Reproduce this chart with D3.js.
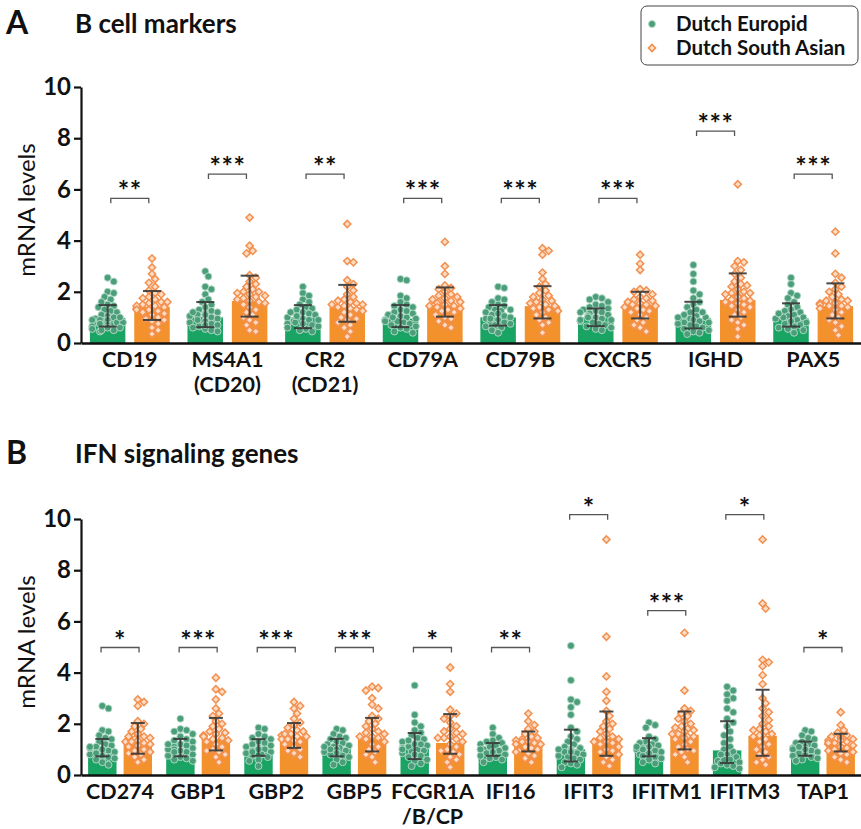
<!DOCTYPE html>
<html>
<head>
<meta charset="utf-8">
<script src="https://cdn.jsdelivr.net/npm/d3@7/dist/d3.min.js"></script>
<style>
  body { margin: 0; background: #fff; }
  svg { display: block; font-family: Lato, "Open Sans", sans-serif; }
</style>
</head>
<body>
<svg id="chart" width="861" height="829"></svg>
<script>
// ---- data ----
const SERIES = ['Dutch Europid', 'Dutch South Asian'];

const genesA = ['CD19', 'MS4A1\n(CD20)', 'CR2\n(CD21)', 'CD79A', 'CD79B', 'CXCR5', 'IGHD', 'PAX5'];
const meanA_EU = [0.97, 1.0, 1.0, 0.95, 1.0, 1.0, 0.96, 0.96];
const lowA_EU  = [0.64, 0.62, 0.58, 0.62, 0.68, 0.66, 0.57, 0.64];
const highA_EU = [1.48, 1.6, 1.48, 1.48, 1.48, 1.35, 1.61, 1.55];
const meanA_SA = [1.42, 1.64, 1.39, 1.48, 1.44, 1.48, 1.68, 1.44];
const lowA_SA  = [0.9, 1.03, 0.83, 1.03, 0.96, 0.96, 1.03, 0.96];
const highA_SA = [2.03, 2.63, 2.27, 2.17, 2.22, 2.0, 2.72, 2.33];
const bracketA = [5.65, 6.6, 6.6, 5.65, 5.65, 5.65, 8.28, 6.6];
const starsA   = ['**', '***', '**', '***', '***', '***', '***', '***'];

const pointsA_EU = [
  [2.55, 2.4, 2.0, 1.95, 1.8, 1.7, 1.6, 1.5, 1.45, 1.4, 1.3, 1.25, 1.2, 1.1, 1.05, 1.0, 0.95, 0.9, 0.9, 0.85, 0.8, 0.8, 0.75, 0.7, 0.65, 0.6, 0.55, 0.5, 0.45, 0.5, 0.7, 0.9, 1.0, 0.6, 0.75],
  [2.8, 2.6, 2.2, 2.1, 1.9, 1.7, 1.6, 1.5, 1.4, 1.3, 1.25, 1.2, 1.15, 1.1, 1.05, 1.0, 0.95, 0.9, 0.85, 0.8, 0.75, 0.7, 0.65, 0.6, 0.55, 0.5, 0.45, 1.1, 0.9, 1.2, 0.7],
  [2.2, 1.95, 1.85, 1.7, 1.6, 1.5, 1.4, 1.35, 1.3, 1.2, 1.15, 1.1, 1.0, 0.95, 0.9, 0.85, 0.8, 0.75, 0.7, 0.65, 0.6, 0.55, 0.5, 0.45, 1.05, 0.9, 1.2, 0.75],
  [2.5, 2.45, 1.85, 1.75, 1.6, 1.5, 1.45, 1.4, 1.3, 1.2, 1.15, 1.1, 1.05, 1.0, 0.95, 0.9, 0.85, 0.8, 0.75, 0.7, 0.65, 0.6, 0.55, 0.45, 0.4, 1.0, 0.85, 1.25],
  [2.2, 2.15, 1.75, 1.7, 1.6, 1.5, 1.45, 1.4, 1.3, 1.25, 1.2, 1.1, 1.05, 1.0, 0.95, 0.9, 0.85, 0.8, 0.75, 0.7, 0.65, 0.6, 0.5, 0.4, 1.15, 0.95, 1.3],
  [1.8, 1.75, 1.7, 1.6, 1.5, 1.45, 1.4, 1.35, 1.3, 1.25, 1.2, 1.15, 1.1, 1.05, 1.0, 0.95, 0.9, 0.85, 0.8, 0.75, 0.7, 0.65, 0.6, 0.55, 0.5, 1.0, 1.2, 0.9],
  [3.05, 2.7, 2.4, 2.05, 1.9, 1.75, 1.6, 1.5, 1.4, 1.3, 1.2, 1.1, 1.05, 1.0, 0.95, 0.9, 0.85, 0.8, 0.75, 0.7, 0.65, 0.6, 0.55, 0.5, 0.45, 0.4, 0.35, 1.0, 0.8, 1.2],
  [2.55, 2.3, 1.95, 1.85, 1.75, 1.6, 1.5, 1.4, 1.3, 1.25, 1.2, 1.1, 1.05, 1.0, 0.95, 0.9, 0.85, 0.8, 0.75, 0.7, 0.65, 0.6, 0.55, 0.5, 0.4, 1.0, 1.15, 0.85]
];
const pointsA_SA = [
  [3.3, 2.95, 2.7, 2.5, 2.35, 2.2, 2.05, 1.95, 1.9, 1.8, 1.75, 1.7, 1.6, 1.55, 1.5, 1.45, 1.4, 1.35, 1.3, 1.25, 1.2, 1.1, 1.0, 0.95, 0.9, 0.85, 0.75, 0.6, 0.5, 0.35, 1.45, 1.6, 1.3, 1.15],
  [4.9, 3.8, 3.6, 3.5, 2.65, 2.55, 2.4, 2.3, 2.2, 2.1, 2.0, 1.95, 1.9, 1.85, 1.8, 1.7, 1.65, 1.6, 1.5, 1.4, 1.3, 1.2, 1.1, 1.0, 0.9, 0.8, 0.7, 0.5, 0.45, 1.75, 1.55, 2.0],
  [4.65, 3.2, 3.15, 2.45, 2.3, 2.2, 2.05, 1.9, 1.8, 1.7, 1.6, 1.55, 1.5, 1.45, 1.4, 1.35, 1.3, 1.2, 1.1, 1.0, 0.95, 0.9, 0.8, 0.7, 0.6, 0.45, 0.25, 1.5, 1.65, 1.25],
  [3.95, 3.0, 2.7, 2.25, 2.15, 2.1, 2.0, 1.9, 1.85, 1.8, 1.7, 1.65, 1.6, 1.55, 1.5, 1.45, 1.4, 1.35, 1.3, 1.25, 1.2, 1.1, 1.0, 0.95, 0.85, 0.7, 0.6, 1.6, 1.75, 1.45],
  [3.7, 3.6, 3.45, 2.75, 2.5, 2.3, 2.2, 2.05, 1.95, 1.85, 1.8, 1.7, 1.6, 1.5, 1.45, 1.4, 1.3, 1.25, 1.2, 1.1, 1.0, 0.9, 0.8, 0.7, 0.4, 1.55, 1.65, 1.35],
  [3.45, 3.1, 2.85, 2.1, 2.05, 2.0, 1.9, 1.8, 1.7, 1.65, 1.6, 1.55, 1.5, 1.45, 1.4, 1.35, 1.3, 1.2, 1.1, 1.0, 0.9, 0.8, 0.7, 0.6, 0.45, 1.5, 1.75, 1.25],
  [6.2, 3.2, 3.15, 3.0, 2.85, 2.7, 2.55, 2.4, 2.3, 2.2, 2.1, 2.0, 1.95, 1.9, 1.85, 1.8, 1.7, 1.65, 1.6, 1.5, 1.45, 1.4, 1.3, 1.2, 1.1, 1.0, 0.9, 0.8, 0.7, 0.55, 0.25, 1.75, 1.55, 2.25, 1.95],
  [4.35, 3.5, 2.7, 2.55, 2.35, 2.2, 2.1, 2.0, 1.9, 1.8, 1.7, 1.65, 1.6, 1.55, 1.5, 1.45, 1.4, 1.35, 1.3, 1.2, 1.1, 1.0, 0.9, 0.8, 0.65, 0.5, 0.3, 1.55, 1.65, 1.45]
];

const genesB = ['CD274', 'GBP1', 'GBP2', 'GBP5', 'FCGR1A\n/B/CP', 'IFI16', 'IFIT3', 'IFITM1', 'IFITM3', 'TAP1'];
const meanB_EU = [0.92, 0.96, 0.96, 1.01, 1.1, 0.99, 1.0, 1.0, 0.96, 0.99];
const lowB_EU  = [0.73, 0.73, 0.75, 0.73, 0.62, 0.75, 0.53, 0.73, 0.47, 0.75];
const highB_EU = [1.41, 1.41, 1.4, 1.41, 1.64, 1.25, 1.77, 1.44, 2.1, 1.31];
const meanB_SA = [1.25, 1.41, 1.5, 1.41, 1.25, 1.25, 1.44, 1.57, 1.53, 1.18];
const lowB_SA  = [0.83, 0.96, 1.06, 0.92, 0.83, 0.92, 0.75, 1.0, 0.75, 0.92];
const highB_SA = [2.03, 2.23, 2.03, 2.23, 2.38, 1.7, 2.48, 2.48, 3.33, 1.61];
const bracketB = [4.98, 4.98, 4.98, 4.98, 4.98, 4.98, 10.17, 6.42, 10.17, 4.98];
const starsB   = ['*', '***', '***', '***', '*', '**', '*', '***', '*', '*'];

const pointsB_EU = [
  [2.7, 2.6, 1.75, 1.7, 1.55, 1.45, 1.4, 1.3, 1.2, 1.15, 1.1, 1.05, 1.0, 0.95, 0.9, 0.9, 0.85, 0.8, 0.75, 0.7, 0.65, 0.6, 0.5, 0.4, 1.0, 0.85, 1.1],
  [2.2, 1.8, 1.75, 1.7, 1.6, 1.5, 1.4, 1.35, 1.3, 1.2, 1.15, 1.1, 1.05, 1.0, 0.95, 0.9, 0.85, 0.8, 0.75, 0.7, 0.65, 0.6, 0.55, 1.0, 1.2, 0.9],
  [1.85, 1.8, 1.6, 1.5, 1.45, 1.4, 1.3, 1.25, 1.2, 1.1, 1.05, 1.0, 0.95, 0.9, 0.85, 0.8, 0.75, 0.7, 0.6, 0.55, 0.35, 1.0, 0.9, 1.15],
  [1.8, 1.75, 1.6, 1.5, 1.45, 1.4, 1.3, 1.25, 1.2, 1.15, 1.1, 1.05, 1.0, 0.95, 0.9, 0.85, 0.8, 0.75, 0.7, 0.6, 0.5, 0.4, 1.0, 1.1],
  [3.5, 2.35, 2.05, 1.9, 1.75, 1.65, 1.55, 1.45, 1.4, 1.3, 1.2, 1.15, 1.1, 1.05, 1.0, 0.95, 0.9, 0.85, 0.8, 0.75, 0.7, 0.6, 0.55, 0.45, 0.35, 1.2, 1.0, 1.35],
  [1.85, 1.6, 1.45, 1.35, 1.3, 1.25, 1.2, 1.15, 1.1, 1.05, 1.0, 0.95, 0.9, 0.85, 0.8, 0.75, 0.7, 0.65, 0.6, 0.5, 1.0, 0.9],
  [5.05, 3.7, 2.95, 2.85, 2.65, 2.35, 1.85, 1.7, 1.5, 1.4, 1.3, 1.2, 1.1, 1.05, 1.0, 0.95, 0.9, 0.85, 0.8, 0.75, 0.7, 0.65, 0.6, 0.5, 0.45, 0.4, 0.3, 0.9, 1.0],
  [2.05, 1.95, 1.85, 1.5, 1.4, 1.3, 1.25, 1.2, 1.15, 1.1, 1.05, 1.0, 0.95, 0.9, 0.85, 0.8, 0.75, 0.7, 0.65, 0.6, 0.5, 0.45, 1.0, 1.1],
  [3.45, 3.3, 3.15, 3.0, 2.9, 2.6, 2.45, 2.2, 2.05, 1.9, 1.7, 1.55, 1.4, 1.25, 1.1, 1.0, 0.9, 0.8, 0.7, 0.6, 0.55, 0.5, 0.45, 0.4, 0.35, 0.3, 0.25, 0.6, 0.8],
  [1.75, 1.7, 1.55, 1.45, 1.4, 1.3, 1.25, 1.2, 1.15, 1.1, 1.05, 1.0, 0.95, 0.9, 0.85, 0.8, 0.75, 0.7, 0.65, 0.6, 0.55, 1.0, 1.1]
];
const pointsB_SA = [
  [2.95, 2.85, 2.7, 2.1, 2.0, 1.9, 1.8, 1.7, 1.6, 1.5, 1.45, 1.4, 1.35, 1.3, 1.2, 1.15, 1.1, 1.0, 0.95, 0.9, 0.85, 0.8, 0.7, 0.6, 0.5, 1.3, 1.5, 1.25],
  [3.8, 3.35, 3.25, 2.95, 2.6, 2.4, 2.3, 2.1, 2.0, 1.9, 1.8, 1.7, 1.6, 1.55, 1.5, 1.45, 1.4, 1.3, 1.2, 1.1, 1.0, 0.95, 0.9, 0.8, 0.7, 0.5, 1.5, 1.65, 1.35],
  [2.85, 2.7, 2.6, 2.4, 2.2, 2.05, 1.95, 1.85, 1.75, 1.7, 1.6, 1.55, 1.5, 1.45, 1.4, 1.35, 1.3, 1.2, 1.1, 1.0, 0.95, 0.85, 0.7, 1.5, 1.6, 1.4],
  [3.45, 3.4, 3.3, 3.0, 2.75, 2.6, 2.3, 2.2, 2.1, 2.0, 1.9, 1.8, 1.7, 1.6, 1.5, 1.45, 1.4, 1.3, 1.2, 1.1, 1.0, 0.9, 0.8, 0.7, 0.5, 1.5, 1.65],
  [4.2, 3.55, 3.25, 2.55, 2.4, 2.3, 2.2, 2.05, 1.9, 1.8, 1.7, 1.6, 1.5, 1.45, 1.4, 1.3, 1.2, 1.1, 1.0, 0.95, 0.9, 0.8, 0.7, 0.6, 0.5, 0.3, 1.45, 1.65],
  [2.4, 2.1, 1.95, 1.8, 1.7, 1.6, 1.5, 1.45, 1.4, 1.35, 1.3, 1.25, 1.2, 1.1, 1.05, 1.0, 0.95, 0.9, 0.85, 0.75, 0.65, 0.5, 1.3, 1.2],
  [9.2, 5.4, 3.85, 3.25, 2.9, 2.5, 2.3, 2.1, 2.0, 1.9, 1.8, 1.7, 1.6, 1.5, 1.4, 1.3, 1.25, 1.2, 1.1, 1.0, 0.95, 0.9, 0.8, 0.7, 0.6, 0.5, 0.35, 1.3, 1.45],
  [5.55, 3.3, 2.6, 2.5, 2.4, 2.3, 2.2, 2.1, 2.0, 1.9, 1.8, 1.75, 1.7, 1.6, 1.5, 1.45, 1.4, 1.3, 1.2, 1.1, 1.0, 0.95, 0.9, 0.8, 0.7, 0.5, 1.6, 1.85, 1.5],
  [9.2, 6.7, 6.5, 4.5, 4.4, 4.25, 3.9, 3.55, 3.0, 2.8, 2.6, 2.45, 2.3, 2.15, 2.0, 1.9, 1.8, 1.7, 1.6, 1.5, 1.4, 1.3, 1.2, 1.1, 1.0, 0.9, 0.8, 0.7, 0.6, 0.5, 0.4, 1.55, 1.75],
  [2.45, 1.95, 1.75, 1.65, 1.55, 1.5, 1.45, 1.4, 1.35, 1.3, 1.25, 1.2, 1.15, 1.1, 1.05, 1.0, 0.95, 0.9, 0.85, 0.8, 0.7, 0.6, 0.5, 1.25, 1.35]
];

const yTicks = [0, 2, 4, 6, 8, 10];

// ---- styles ----
const BAR_COLOR = ['#19a463', '#f3912c'];
const PT_FILL   = ['#4c9e7a', '#fcdcc2'];
const PT_STROKE = ['#b5dcc8', '#f3904f'];
const ERR_COLOR = '#383838';
const BRACKET_COLOR = '#555';

const svg = d3.select('#chart');
const square = d3.symbol().type(d3.symbolSquare).size(26);

function marker(g, s, x, y) {
  if (s === 0) {
    g.append('circle').attr('cx', x).attr('cy', y).attr('r', 3.5)
      .attr('fill', PT_FILL[0]).attr('stroke', PT_STROKE[0]).attr('stroke-width', 0.9);
  } else {
    // small rotated square = diamond
    g.append('path').attr('d', square).attr('transform', `translate(${x},${y}) rotate(45)`)
      .attr('fill', PT_FILL[1]).attr('stroke', PT_STROKE[1]).attr('stroke-width', 1.5);
  }
}

// simple beeswarm: push each point sideways until it doesn't overlap
function swarm(ys, maxOff, gap) {
  const order = d3.range(ys.length).sort((a, b) => ys[a] - ys[b]);
  const placed = [];
  const off = new Array(ys.length).fill(0);
  order.forEach(i => {
    let best = 0;
    for (let k = 0; k < 40; k++) {
      const step = Math.ceil(k / 2) * (gap * 0.55) * (k % 2 ? 1 : -1);
      if (Math.abs(step) > maxOff) break;
      const ok = placed.every(p => Math.hypot(p.x - step, p.y - ys[i]) >= gap);
      if (ok) { best = step; break; }
      best = (k % 2 ? 1 : -1) * Math.min(maxOff, Math.abs(step)) * ((i % 3) / 2);
    }
    off[i] = best;
    placed.push({ x: best, y: ys[i] });
  });
  return off;
}

function drawPanel(p) {
  const g = svg.append('g');
  const x = d3.scaleBand().domain(p.genes).range([81, 862]).padding(0);
  const sub = d3.scaleBand().domain([0, 1]).range([0, x.bandwidth()])
    .paddingInner(0.2).paddingOuter(0.2);
  const y = d3.scaleLinear().domain([0, 10]).range([p.y0, p.y10]);
  const bw = sub.bandwidth();

  const series = [
    { mean: p.meanEU, low: p.lowEU, high: p.highEU, pts: p.ptsEU },
    { mean: p.meanSA, low: p.lowSA, high: p.highSA, pts: p.ptsSA },
  ];

  // bars
  series.forEach((s, si) => {
    g.selectAll(null).data(p.genes).join('rect')
      .attr('x', d => x(d) + sub(si))
      .attr('y', (d, i) => y(s.mean[i]))
      .attr('width', bw)
      .attr('height', (d, i) => y(0) - y(s.mean[i]))
      .attr('fill', BAR_COLOR[si]);
  });

  // scatter points, beeswarm across the bar width
  series.forEach((s, si) => {
    const pg = g.append('g');
    p.genes.forEach((gene, gi) => {
      const cx = x(gene) + sub(si) + bw / 2;
      const ys = s.pts[gi].map(v => y(v));
      const offs = swarm(ys, bw * 0.45, 5.6);
      ys.forEach((py, k) => marker(pg, si, cx + offs[k], py));
    });
  });

  // error bars
  series.forEach((s, si) => {
    p.genes.forEach((gene, gi) => {
      const cx = x(gene) + sub(si) + bw / 2;
      const eg = g.append('g').attr('stroke', ERR_COLOR).attr('stroke-width', 2).attr('opacity', 0.9);
      eg.append('line').attr('x1', cx).attr('x2', cx)
        .attr('y1', y(s.low[gi])).attr('y2', y(s.high[gi]));
      [s.low[gi], s.high[gi]].forEach(v => {
        eg.append('line').attr('x1', cx - p.cap).attr('x2', cx + p.cap)
          .attr('y1', y(v)).attr('y2', y(v));
      });
    });
  });

  // significance brackets
  p.genes.forEach((gene, gi) => {
    const cx = x(gene) + x.bandwidth() / 2;
    const by = y(p.bracket[gi]);
    g.append('path')
      .attr('d', `M${cx - 19},${by + 5}V${by}H${cx + 19}V${by + 5}`)
      .attr('fill', 'none').attr('stroke', BRACKET_COLOR).attr('stroke-width', 1.3);
    g.append('text').attr('x', cx).attr('y', by + 2)
      .attr('text-anchor', 'middle').attr('font-size', 27).attr('font-weight', 700)
      .attr('letter-spacing', 0.5).attr('fill', '#111')
      .text(p.stars[gi]);
  });

  // y axis
  const ya = g.append('g').attr('transform', 'translate(81,0)')
    .call(d3.axisLeft(y).tickValues(yTicks).tickSize(7).tickPadding(3).tickSizeOuter(0));
  ya.select('.domain').attr('stroke', '#111').attr('stroke-width', 2.2);
  ya.selectAll('.tick line').attr('stroke', '#111').attr('stroke-width', 2.2);
  ya.selectAll('.tick text').attr('font-size', 24).attr('font-weight', 700)
    .attr('fill', '#111').attr('font-family', 'Lato, sans-serif');

  // x axis
  const xa = g.append('g').attr('transform', `translate(0,${p.y0})`)
    .call(d3.axisBottom(x).tickSize(0).tickFormat(''));
  xa.select('.domain').attr('stroke', '#111').attr('stroke-width', 2.6);
  xa.selectAll('.tick').each(function (d) {
    const t = d3.select(this).append('text')
      .attr('fill', '#111').attr('font-size', 21.5).attr('font-weight', 700)
      .attr('font-family', 'Lato, sans-serif').attr('text-anchor', 'middle');
    d.split('\n').forEach((line, li) => {
      t.append('tspan').attr('x', 0).attr('y', 24 + li * 25).text(line);
    });
  });

  // y label
  g.append('text')
    .attr('transform', `translate(35,${(p.y0 + p.y10) / 2 - 5}) rotate(-90)`)
    .attr('text-anchor', 'middle').attr('font-size', 24).attr('fill', '#111')
    .text('mRNA levels');

  // panel letter + title
  g.append('text').attr('x', 6).attr('y', p.titleY + 1).attr('font-size', 32)
    .attr('font-weight', 700).attr('fill', '#111').text(p.letter);
  g.append('text').attr('x', 75).attr('y', p.titleY).attr('font-size', 26)
    .attr('font-weight', 700).attr('fill', '#111').text(p.title);
}

drawPanel({
  letter: 'A', title: 'B cell markers', titleY: 33,
  genes: genesA, y0: 343, y10: 87, cap: 9,
  meanEU: meanA_EU, lowEU: lowA_EU, highEU: highA_EU, ptsEU: pointsA_EU,
  meanSA: meanA_SA, lowSA: lowA_SA, highSA: highA_SA, ptsSA: pointsA_SA,
  bracket: bracketA, stars: starsA,
});

drawPanel({
  letter: 'B', title: 'IFN signaling genes', titleY: 463,
  genes: genesB, y0: 775, y10: 519, cap: 7,
  meanEU: meanB_EU, lowEU: lowB_EU, highEU: highB_EU, ptsEU: pointsB_EU,
  meanSA: meanB_SA, lowSA: lowB_SA, highSA: highB_SA, ptsSA: pointsB_SA,
  bracket: bracketB, stars: starsB,
});

// legend
const lg = svg.append('g');
lg.append('rect').attr('x', 641).attr('y', 6).attr('width', 217).attr('height', 59)
  .attr('rx', 6).attr('fill', '#fff').attr('stroke', '#444').attr('stroke-width', 1);
SERIES.forEach((name, i) => {
  const ly = 24 + i * 24;
  marker(lg, i, 652, ly);
  lg.append('text').attr('x', 676).attr('y', ly + 7).attr('font-size', 20.5)
    .attr('font-weight', 700).attr('fill', '#111').text(name);
});
</script>
</body>
</html>
